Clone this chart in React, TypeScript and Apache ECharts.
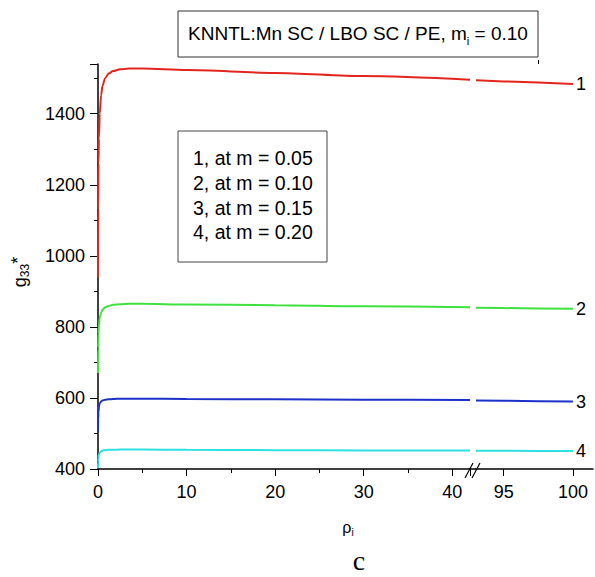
import React, { useEffect, useRef } from "react";
import * as echarts from "echarts";

// ---- data ----
const curveNames = ["1", "2", "3", "4"];
const mValues = ["0.05", "0.10", "0.15", "0.20"];
const colors = ["#e2261d", "#3fe03f", "#1c31c9", "#2ee0e0"];

const rhoLeft = [0, 0.02, 0.05, 0.1, 0.2, 0.35, 0.5, 0.8, 1.2, 1.7, 2.5, 3.5, 5, 10, 20, 30, 42];
const rhoRight = [93, 95, 97.5, 100];

const g1Left = [940, 1130, 1260, 1330, 1400, 1452, 1478, 1500, 1513, 1520, 1525, 1527, 1527, 1523, 1515, 1506, 1496];
const g1Right = [1494, 1491, 1488, 1484];
const g2Left = [670, 740, 780, 805, 825, 840, 848, 855, 859, 862, 864, 865, 865, 863, 861, 858, 855];
const g2Right = [854, 853, 852, 851];
const g3Left = [505, 540, 560, 575, 585, 590, 593, 595, 596, 597, 598, 598, 598, 597, 596, 595, 594];
const g3Right = [593, 592, 591, 590];
const g4Left = [402, 420, 432, 440, 446, 450, 452, 453, 454, 454, 455, 455, 455, 454, 453, 452, 452];
const g4Right = [451.5, 451.5, 451, 451];

const leftSets = [g1Left, g2Left, g3Left, g4Left];
const rightSets = [g1Right, g2Right, g3Right, g4Right];

const yTicks = { min: 400, max: 1540, interval: 200 };
const xLeftRange = { min: 0, max: 42, interval: 10 };
const xRightRange = { min: 93, max: 101.45 };
const xRightLabels = [95, 100];
const xRightMinor = [97.5];

const FONT = "Liberation Sans, Arial, sans-serif";

export default function App() {
  const ref = useRef<HTMLDivElement>(null);
  useEffect(() => {
    if (!ref.current) return;
    const chart = echarts.init(ref.current, null, { renderer: "svg" });
    const axisLine = { show: true, lineStyle: { color: "#000", width: 1.5 } };
    const label = { color: "#000", fontSize: 18, fontFamily: FONT, formatter: (v: number) => String(v) };
    const top = 64;
    const bottom = 577 - 469;

    const series: any[] = [];
    leftSets.forEach((arr, i) => {
      series.push({
        type: "line",
        xAxisIndex: 0,
        yAxisIndex: 0,
        data: rhoLeft.map((x, k) => [x, arr[k]]),
        showSymbol: false,
        smooth: 0.3,
        smoothMonotone: "x",
        lineStyle: { color: colors[i], width: 2 },
        silent: true,
      });
    });
    rightSets.forEach((arr, i) => {
      series.push({
        type: "line",
        xAxisIndex: 1,
        yAxisIndex: 1,
        data: rhoRight.map((x, k) => [x, arr[k]]),
        showSymbol: false,
        lineStyle: { color: colors[i], width: 2 },
        silent: true,
        endLabel: {
          show: true,
          formatter: curveNames[i],
          color: "#000",
          fontSize: 18,
          fontFamily: FONT,
          distance: 3,
        },
      });
    });

    const legendText = curveNames.map((n, i) => `${n}, at m = ${mValues[i]}`).join("\n");

    chart.setOption({
      animation: false,
      backgroundColor: "#fff",
      grid: [
        { left: 98, width: 372, top, bottom },
        { left: 476, width: 117, top, bottom },
      ],
      xAxis: [
        {
          type: "value",
          gridIndex: 0,
          min: xLeftRange.min,
          max: xLeftRange.max,
          interval: xLeftRange.interval,
          axisLine,
          axisTick: { show: true, length: 7, lineStyle: { color: "#000" } },
          minorTick: { show: true, splitNumber: 2, length: 4, lineStyle: { color: "#000" } },
          axisLabel: { ...label, margin: 14, showMaxLabel: false },
          splitLine: { show: false },
        },
        {
          type: "value",
          gridIndex: 1,
          min: xRightRange.min,
          max: xRightRange.max,
          axisLine,
          axisTick: { show: true, length: 7, customValues: xRightLabels, lineStyle: { color: "#000" } },
          axisLabel: { ...label, margin: 14, customValues: xRightLabels },
          splitLine: { show: false },
        },
        {
          type: "value",
          gridIndex: 1,
          min: xRightRange.min,
          max: xRightRange.max,
          axisLine: { show: false },
          axisTick: { show: true, length: 4, customValues: xRightMinor, lineStyle: { color: "#000" } },
          axisLabel: { show: false },
          splitLine: { show: false },
        },
      ],
      yAxis: [
        {
          type: "value",
          gridIndex: 0,
          min: yTicks.min,
          max: yTicks.max,
          interval: yTicks.interval,
          axisLine,
          axisTick: { show: true, length: 8, lineStyle: { color: "#000" } },
          minorTick: { show: true, splitNumber: 2, length: 4, lineStyle: { color: "#000" } },
          axisLabel: { ...label, margin: 13, showMaxLabel: false },
          splitLine: { show: false },
        },
        {
          type: "value",
          gridIndex: 1,
          min: yTicks.min,
          max: yTicks.max,
          interval: yTicks.interval,
          show: false,
          splitLine: { show: false },
        },
      ],
      series,
      graphic: [
        // axis break marks
        { type: "line", shape: { x1: 470, y1: 469, x2: 476, y2: 469 }, style: { stroke: "#000", lineWidth: 1.5 } },
        { type: "line", shape: { x1: 465, y1: 478, x2: 473, y2: 463 }, style: { stroke: "#000", lineWidth: 1.2 } },
        { type: "line", shape: { x1: 472, y1: 478, x2: 480, y2: 463 }, style: { stroke: "#000", lineWidth: 1.2 } },
        // title box
        { type: "rect", shape: { x: 178, y: 11, width: 360, height: 46 }, style: { fill: "#fff", stroke: "#333", lineWidth: 1 } },
        {
          type: "text",
          x: 358,
          y: 21,
          style: {
            text: "{a|KNNTL:Mn SC / LBO SC / PE, m}{s|i}{a| = 0.10}",
            align: "center",
            verticalAlign: "top",
            fontFamily: FONT,
            fill: "#000",
            rich: {
              a: { fontSize: 19, lineHeight: 25, fontFamily: FONT, fill: "#000" },
              s: { fontSize: 11, lineHeight: 8, verticalAlign: "bottom", fontFamily: FONT, fill: "#000" },
            },
          },
        },
        // legend box
        { type: "rect", shape: { x: 178, y: 131, width: 149, height: 131 }, style: { fill: "#fff", stroke: "#444", lineWidth: 1 } },
        {
          type: "text",
          x: 193,
          y: 146,
          style: {
            text: legendText,
            fontSize: 19.5,
            lineHeight: 24.7,
            fontFamily: FONT,
            fill: "#000",
            align: "left",
            verticalAlign: "top",
          },
        },
        // y axis title
        {
          type: "text",
          x: 20,
          y: 272,
          rotation: Math.PI / 2,
          style: {
            text: "{g|g}{s|33}{p|*}",
            align: "center",
            verticalAlign: "middle",
            fill: "#000",
            rich: {
              g: { fontSize: 18, lineHeight: 22, fontFamily: FONT, fill: "#000" },
              s: { fontSize: 12, lineHeight: 8, verticalAlign: "bottom", fontFamily: FONT, fill: "#000" },
              p: { fontSize: 18, lineHeight: 14, verticalAlign: "top", fontFamily: FONT, fill: "#000" },
            },
          },
        },
        // x axis title
        {
          type: "text",
          x: 348,
          y: 527,
          style: {
            text: "{a|ρ}{s|i}",
            align: "center",
            verticalAlign: "middle",
            fill: "#000",
            rich: {
              a: { fontSize: 16, lineHeight: 20, fontFamily: FONT, fill: "#000" },
              s: { fontSize: 10, lineHeight: 6, verticalAlign: "bottom", fontFamily: FONT, fill: "#000" },
            },
          },
        },
        // panel letter
        {
          type: "text",
          x: 359,
          y: 560,
          style: {
            text: "c",
            fontSize: 28,
            fontFamily: "Liberation Serif, Times New Roman, serif",
            fill: "#000",
            align: "center",
            verticalAlign: "middle",
          },
        },
      ],
    });
    return () => chart.dispose();
  }, []);
  return <div ref={ref} style={{ position: "fixed", left: 0, top: 0, width: 595, height: 577 }} />;
}
